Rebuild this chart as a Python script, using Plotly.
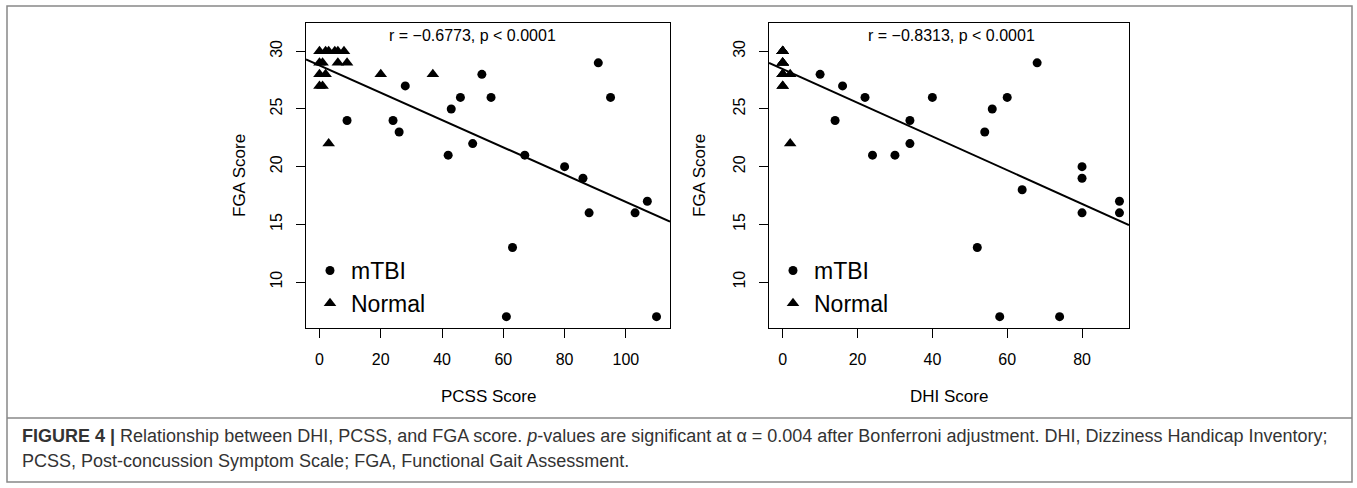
import plotly.graph_objects as go

# ---------------- data ----------------
# Left panel: PCSS vs FGA
pcss_mtbi = [9, 28, 24, 26, 43, 46, 53, 56, 50, 42, 67, 91, 95, 80, 86, 88, 63, 61, 107, 103, 110]
fga_mtbi_pcss = [24, 27, 24, 23, 25, 26, 28, 26, 22, 21, 21, 29, 26, 20, 19, 16, 13, 7, 17, 16, 7]
pcss_normal = [0, 2, 3, 5, 6, 8, 0, 1, 6, 9, 0, 2, 20, 37, 0, 1, 3]
fga_normal = [30, 30, 30, 30, 30, 30, 29, 29, 29, 29, 28, 28, 28, 28, 27, 27, 22]

# Right panel: DHI vs FGA
dhi_mtbi = [10, 16, 22, 14, 34, 40, 34, 24, 30, 54, 56, 60, 68, 80, 80, 80, 64, 52, 58, 74, 90, 90]
fga_mtbi_dhi = [28, 27, 26, 24, 24, 26, 22, 21, 21, 23, 25, 26, 29, 20, 19, 16, 18, 13, 7, 7, 17, 16]
dhi_normal = [0, 0, 0, 0, 0, 0, 0, 0, 0, 0, 0, 2, 0, 0, 0, 0, 2]

# regression lines (intercept, slope)
fit_pcss = (28.77, -0.1183)
fit_dhi = (28.46, -0.146)

r_text_pcss = "r = \u22120.6773, p < 0.0001"
r_text_dhi = "r = \u22120.8313, p < 0.0001"

x_ticks_pcss = [0, 20, 40, 60, 80, 100]
x_ticks_dhi = [0, 20, 40, 60, 80]
y_ticks = [10, 15, 20, 25, 30]

caption_line1 = ("<b>FIGURE 4 |</b> Relationship between DHI, PCSS, and FGA score. <i>p</i>-values are "
                 "significant at \u03b1 = 0.004 after Bonferroni adjustment. DHI, Dizziness Handicap Inventory;")
caption_line2 = "PCSS, Post-concussion Symptom Scale; FGA, Functional Gait Assessment."

# ---------------- layout geometry ----------------
W, H = 1357, 488
FONT = "Liberation Sans, Arial, Helvetica, sans-serif"

def fx(p):
    return p / W

def fy(p):
    return 1 - p / H

x_range_pcss = [-4.4, 114.4]
x_range_dhi = [-3.66, 92.55]
y_range = [6.02, 32.45]

fig = go.Figure()

def add_panel(xs_m, ys_m, xs_n, ys_n, fit, xr, xa, ya, legend):
    fig.add_trace(go.Scatter(x=xs_m, y=ys_m, mode="markers", name="mTBI",
                             marker=dict(symbol="circle", size=9, color="black"),
                             xaxis=xa, yaxis=ya, legend=legend))
    fig.add_trace(go.Scatter(x=xs_n, y=ys_n, mode="markers", name="Normal",
                             marker=dict(symbol="triangle-up", size=11, color="black"),
                             xaxis=xa, yaxis=ya, legend=legend))
    a, b = fit
    fig.add_trace(go.Scatter(x=[xr[0], xr[1]], y=[a + b * xr[0], a + b * xr[1]], mode="lines",
                             line=dict(color="black", width=2), showlegend=False,
                             xaxis=xa, yaxis=ya, hoverinfo="skip"))

add_panel(pcss_mtbi, fga_mtbi_pcss, pcss_normal, fga_normal, fit_pcss, x_range_pcss, "x", "y", "legend")
add_panel(dhi_mtbi, fga_mtbi_dhi, dhi_normal, fga_normal, fit_dhi, x_range_dhi, "x2", "y2", "legend2")

axis_common = dict(showline=True, mirror=True, linecolor="black", linewidth=1,
                   ticks="outside", ticklen=9, tickwidth=1, tickcolor="black",
                   showgrid=False, zeroline=False,
                   tickfont=dict(size=16, color="black", family=FONT))

y_dom = [fy(328), fy(23)]

fig.update_layout(
    width=W, height=H,
    margin=dict(l=0, r=0, t=0, b=0),
    paper_bgcolor="white", plot_bgcolor="white",
    font=dict(family=FONT, color="black"),
    xaxis=dict(domain=[fx(306), fx(670)], range=x_range_pcss, tickvals=x_ticks_pcss,
               anchor="y", ticklabelstandoff=8, **axis_common),
    yaxis=dict(domain=y_dom, range=y_range, tickvals=y_ticks, tickangle=-90,
               anchor="x", ticklabelstandoff=8, **axis_common),
    xaxis2=dict(domain=[fx(769), fx(1129)], range=x_range_dhi, tickvals=x_ticks_dhi,
                anchor="y2", ticklabelstandoff=8, **axis_common),
    yaxis2=dict(domain=y_dom, range=y_range, tickvals=y_ticks, tickangle=-90,
                anchor="x2", ticklabelstandoff=8, **axis_common),
    legend=dict(x=fx(309), y=fy(249), xanchor="left", yanchor="top",
                font=dict(size=23, family=FONT, color="black"),
                bgcolor="rgba(0,0,0,0)", itemwidth=32, tracegroupgap=0),
    legend2=dict(x=fx(772), y=fy(249), xanchor="left", yanchor="top",
                 font=dict(size=23, family=FONT, color="black"),
                 bgcolor="rgba(0,0,0,0)", itemwidth=32, tracegroupgap=0),
    showlegend=True,
)

def ann(text, x, y, size, xref="paper", yref="paper", angle=0, xanchor="center", color="black"):
    return dict(text=text, x=x, y=y, xref=xref, yref=yref, showarrow=False,
                xanchor=xanchor, yanchor="middle", textangle=angle,
                font=dict(size=size, family=FONT, color=color))

annotations = [
    ann(r_text_pcss, 50, 31.38, 16, xref="x", yref="y"),
    ann(r_text_dhi, 45, 31.38, 16, xref="x2", yref="y2"),
    ann("PCSS Score", fx(488), fy(396), 17),
    ann("DHI Score", fx(949), fy(396), 17),
    ann("FGA Score", fx(240), fy(176), 17, angle=-90),
    ann("FGA Score", fx(700), fy(176), 17, angle=-90),
    ann(caption_line1, fx(20), fy(436), 18, xanchor="left", color="#333333"),
    ann(caption_line2, fx(20), fy(461), 18, xanchor="left", color="#333333"),
]
fig.update_layout(annotations=annotations)

fig.update_layout(shapes=[
    dict(type="rect", xref="paper", yref="paper", x0=fx(7), x1=fx(1352), y0=fy(482), y1=fy(6),
         line=dict(color="#888888", width=1.5)),
    dict(type="line", xref="paper", yref="paper", x0=fx(7), x1=fx(1352), y0=fy(418), y1=fy(418),
         line=dict(color="#888888", width=1.5)),
])

fig.write_html("out.html", config={"displayModeBar": False},
               post_script="document.body.style.margin='0';document.body.style.overflow='hidden';")
